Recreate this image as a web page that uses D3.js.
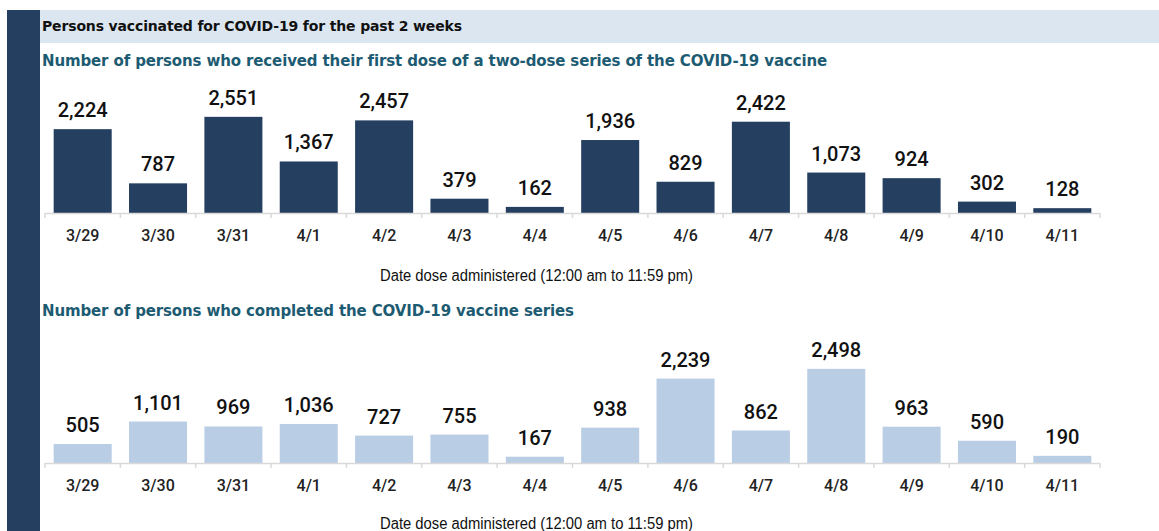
<!DOCTYPE html>
<html><head><meta charset="utf-8">
<script src="https://cdn.jsdelivr.net/npm/d3@7"></script>
<style>body{margin:0;background:#fff;}svg{display:block;}</style>
</head><body>
<svg id="c" width="1159" height="531"></svg>
<script>
const dates = ["3/29","3/30","3/31","4/1","4/2","4/3","4/4","4/5","4/6","4/7","4/8","4/9","4/10","4/11"];
const firstDose = [2224,787,2551,1367,2457,379,162,1936,829,2422,1073,924,302,128];
const completed = [505,1101,969,1036,727,755,167,938,2239,862,2498,963,590,190];
const headerTitle = "Persons vaccinated for COVID-19 for the past 2 weeks";
const title1 = "Number of persons who received their first dose of a two-dose series of the COVID-19 vaccine";
const title2 = "Number of persons who completed the COVID-19 vaccine series";
const axisTitle = "Date dose administered (12:00 am to 11:59 pm)";

const svg = d3.select("#c");
const NAVY = "#243f60", LIGHT = "#b9cde5", TEAL = "#1d5b72";

// side bar and header band
svg.append("rect").attr("x",7).attr("y",10).attr("width",33).attr("height",521).attr("fill",NAVY);
svg.append("rect").attr("x",40).attr("y",10).attr("width",1119).attr("height",33).attr("fill","#dce6f0");
svg.append("text").attr("x",42).attr("y",31).text(headerTitle)
  .attr("font-family","DejaVu Sans").attr("font-weight","bold").attr("font-size",14)
  .attr("letter-spacing",-0.15).attr("fill","#111");

const x = d3.scaleBand().domain(dates).range([45,1100]).paddingInner(0.23).paddingOuter(0.115);
const y = d3.scaleLinear().domain([0,2600]).range([0,98]);
const fmt = d3.format(",");

function panel(values, color, title, titleY, axisY, axTitleY){
  svg.append("text").attr("x",42).attr("y",titleY).text(title)
    .attr("font-family","DejaVu Sans").attr("font-weight","bold").attr("font-size",15)
    .attr("letter-spacing",-0.13).attr("fill",TEAL);
  const g = svg.append("g");
  g.selectAll("rect.bar").data(dates).join("rect").attr("class","bar")
    .attr("x",d=>x(d)).attr("width",x.bandwidth())
    .attr("y",(d,i)=>axisY - y(values[i])).attr("height",(d,i)=>y(values[i]))
    .attr("fill",color);
  g.selectAll("text.val").data(dates).join("text").attr("class","val")
    .attr("x",d=>x(d)+x.bandwidth()/2).attr("y",(d,i)=>axisY - y(values[i]) - 12)
    .attr("text-anchor","middle").attr("font-family","Roboto").attr("font-weight",500)
    .attr("font-size",20).attr("fill","#111").text((d,i)=>fmt(values[i]));
  const [r0,r1] = x.range();
  g.append("line").attr("x1",r0).attr("x2",r1).attr("y1",axisY+0.5).attr("y2",axisY+0.5)
    .attr("stroke","#d9d9d9").attr("stroke-width",1.5);
  const off = (x.step()-x.bandwidth())/2;
  const bounds = dates.map(d=>x(d)-off).concat([r1]);
  g.selectAll("line.tk").data(bounds).join("line").attr("class","tk")
    .attr("x1",d=>d).attr("x2",d=>d).attr("y1",axisY).attr("y2",axisY+5)
    .attr("stroke","#d9d9d9").attr("stroke-width",1.5);
  g.selectAll("text.lab").data(dates).join("text").attr("class","lab")
    .attr("x",d=>x(d)+x.bandwidth()/2).attr("y",axisY+28)
    .attr("text-anchor","middle").attr("font-family","Roboto").attr("font-weight",500)
    .attr("font-size",16).attr("fill","#222").text(d=>d);
  g.append("text").attr("x",380).attr("y",axTitleY)
    .attr("font-family","Liberation Sans").attr("font-size",16).attr("fill","#111")
    .attr("textLength",313).attr("lengthAdjust","spacingAndGlyphs")
    .text(axisTitle);
}
panel(firstDose, NAVY, title1, 66, 213, 281);
panel(completed, LIGHT, title2, 316, 463, 529);
</script>
</body></html>
